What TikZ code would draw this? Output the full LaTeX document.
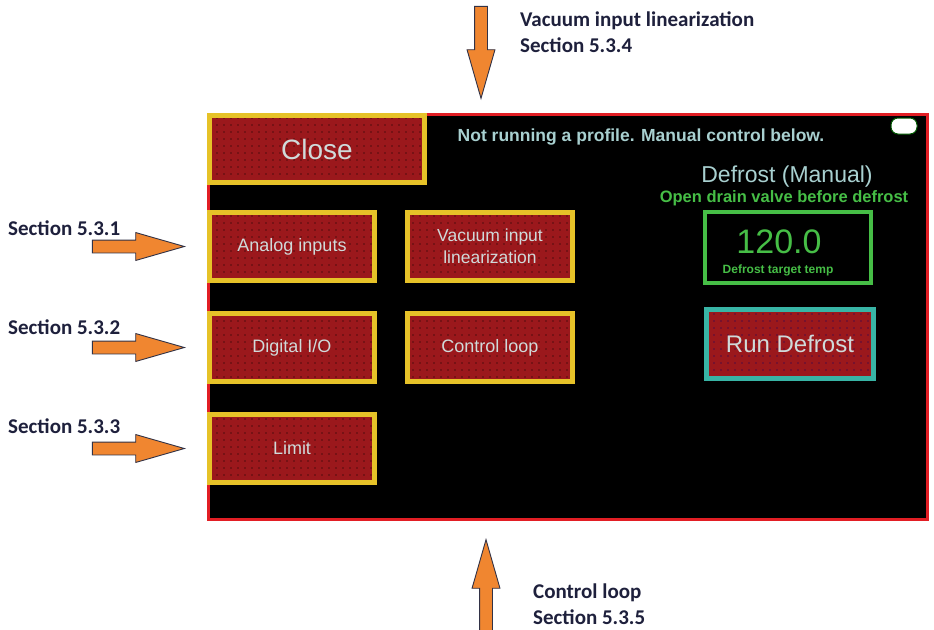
\documentclass[tikz,border=0pt]{standalone}
\usepackage{fontspec}
\setmainfont{Liberation Sans}
\newfontfamily\notefont{Carlito}
\usetikzlibrary{positioning,shapes.arrows,patterns.meta}

\definecolor{btnred}{RGB}{155,24,28}
\definecolor{btnyellow}{RGB}{230,194,40}
\definecolor{btntext}{RGB}{208,218,218}
\definecolor{scrred}{RGB}{226,30,36}
\definecolor{scrtext}{RGB}{168,208,208}
\definecolor{scrgreen}{RGB}{70,190,70}
\definecolor{runteal}{RGB}{56,180,165}
\definecolor{arroworange}{RGB}{240,134,48}
\definecolor{arrowline}{RGB}{50,50,70}
\definecolor{notetext}{RGB}{30,32,60}

\tikzset{
  button/.style={rectangle, preaction={fill=btnred}, pattern={Dots[radius=0.6pt,distance=7pt]},
    pattern color=black, draw=btnyellow, line width=5pt, minimum width=165pt,
    minimum height=68pt, inner sep=2pt, align=center, text=btntext,
    font=\fontsize{18}{22}\selectfont},
  note/.style={anchor=west, inner sep=0pt, align=left, text=notetext,
    font=\notefont\bfseries\fontsize{21}{26}\selectfont},
  pointer/.style={single arrow, draw=arrowline, fill=arroworange, line width=0.9pt,
    inner xsep=0pt, inner ysep=6pt, minimum height=92pt, single arrow head extend=7.5pt,
    single arrow head indent=0pt, single arrow tip angle=32},
}

\begin{document}
\begin{tikzpicture}[x=1pt,y=-1pt,node distance=28pt]
    \useasboundingbox (0,0) rectangle (934,629);
    \fill[white] (0,0) rectangle (934,629);

    % screen
    \node (panel) [rectangle, fill=black, draw=scrred, line width=3pt, minimum width=719pt, minimum height=405pt] at (568,317) {};

    % menu buttons
    \node (close) [button, minimum width=215pt, minimum height=67pt, font=\fontsize{28}{32}\selectfont] at (317,149) {Close};
    \node (analog) [button] at (292,246.5) {Analog inputs};
    \node (vacuum) [button, right=of analog, font=\fontsize{17.5}{22}\selectfont] {Vacuum input\\linearization};
    \node (digital) [button, below=of analog] {Digital I/O};
    \node (control) [button, right=of digital] {Control loop};
    \node (limit) [button, below=of digital] {Limit};

    % defrost area
    \node (status) [text=scrtext, font=\bfseries\fontsize{17.5}{20}\selectfont] at (641,137) {Not running a profile. Manual control below.};
    \node (led) [rectangle, rounded corners=7pt, fill=white, draw=green!35!black, line width=1pt, minimum width=26pt, minimum height=16pt] at (904,126) {};
    \node (mode) [text=scrtext, font=\fontsize{23}{26}\selectfont] at (787,177) {Defrost (Manual)};
    \node (warn) [text=scrgreen, font=\bfseries\fontsize{16.5}{19}\selectfont] at (784,198) {Open drain valve before defrost};
    \node (target) [rectangle, draw=scrgreen, line width=4pt, minimum width=166pt, minimum height=71pt] at (788,247.5) {};
    \node (tvalue) [text=scrgreen, inner sep=0pt, font=\fontsize{34}{36}\selectfont] at (779,242) {120.0};
    \node (tlabel) [text=scrgreen, inner sep=0pt, font=\bfseries\fontsize{12}{14}\selectfont] at (778,270) {Defrost target temp};
    \node (run) [button, draw=runteal, pattern color=blue!40!black, minimum width=167pt, minimum height=69pt, font=\fontsize{24}{28}\selectfont] at (790,344) {Run Defrost};

    % callouts
    \node (note1) [note] at (8,228) {Section 5.3.1};
    \node (note2) [note] at (8,327) {Section 5.3.2};
    \node (note3) [note] at (8,426) {Section 5.3.3};
    \node (note4) [note] at (520,32) {Vacuum input linearization\\Section 5.3.4};
    \node (note5) [note] at (533,604.5) {Control loop\\Section 5.3.5};

    \node (arrow1) [pointer, left=21pt of analog] {};
    \node (arrow2) [pointer, left=21pt of digital] {};
    \node (arrow3) [pointer, left=21pt of limit] {};
    \node (arrow4) [pointer, rotate=-90, anchor=tip] at (481,100) {};
    \node (arrow5) [pointer, rotate=90, anchor=tip, minimum height=95pt] at (486,538) {};
\end{tikzpicture}
\end{document}
